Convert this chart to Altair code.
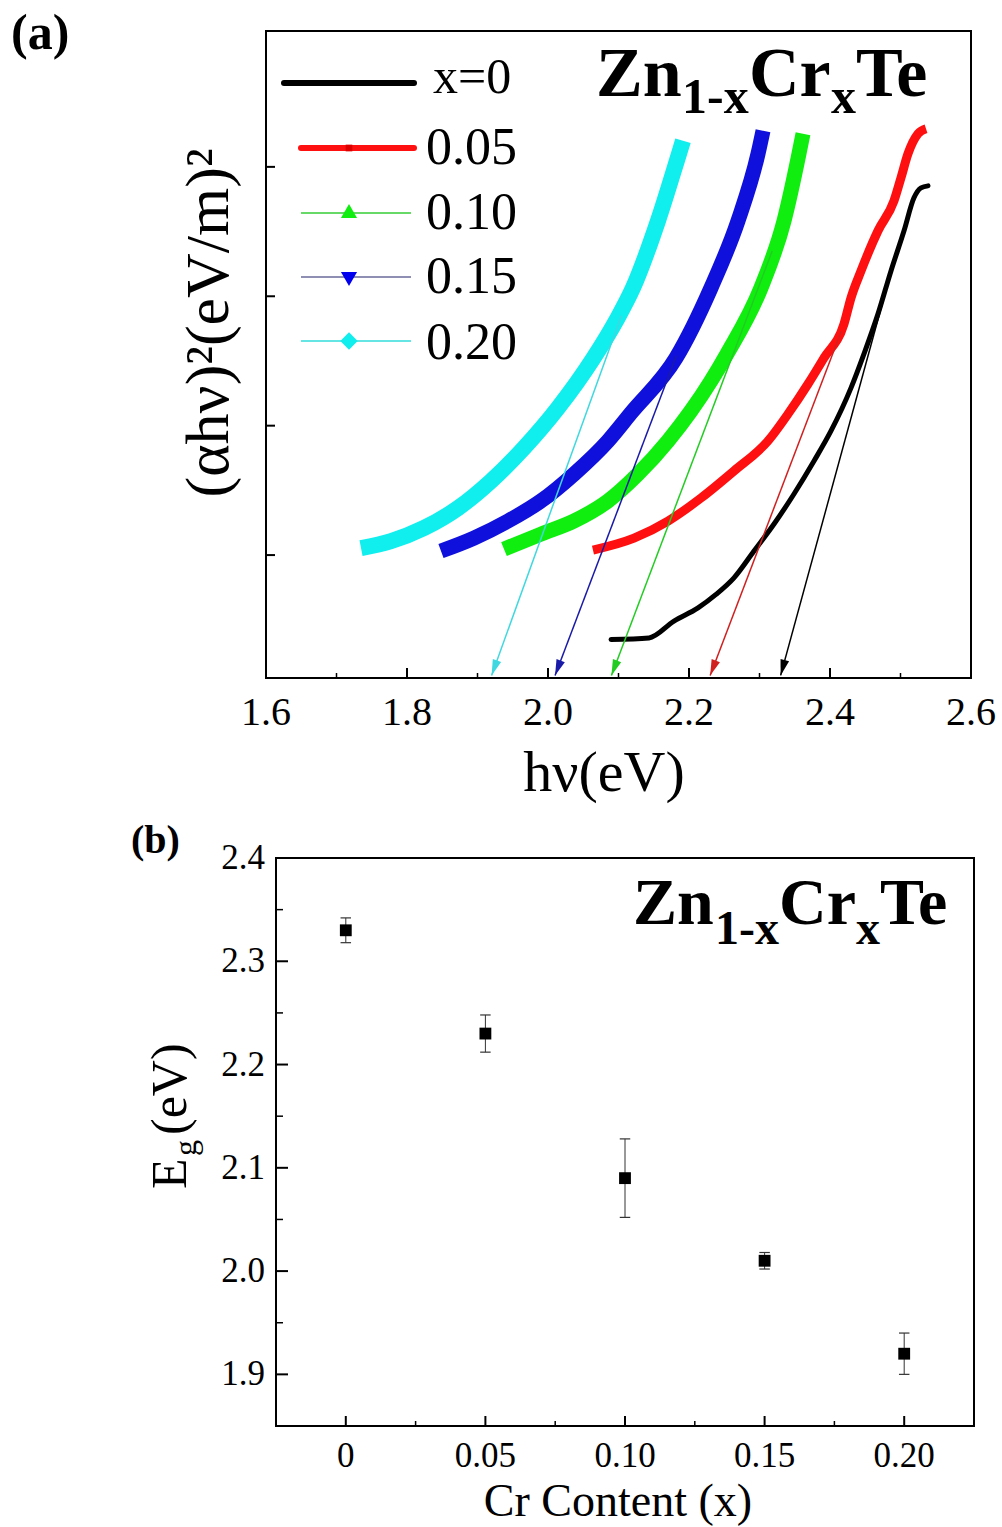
import math
import altair as alt
import pandas as pd

# ---------------- panel (a) data: (alpha h nu)^2 vs h nu ----------------
SERIES_LABELS = ["x=0", "0.05", "0.10", "0.15", "0.20"]

X000_EV = [2.0894, 2.1433, 2.1787, 2.2128, 2.2383, 2.2638, 2.2922, 2.3206, 2.3489, 2.3773,
           2.4014, 2.4298, 2.4482, 2.4681, 2.4865, 2.5050, 2.5191, 2.5291, 2.5390]
X000_Y = [0.348, 0.360, 0.490, 0.592, 0.696, 0.824, 1.031, 1.240, 1.472, 1.727,
          1.959, 2.292, 2.555, 2.864, 3.196, 3.506, 3.761, 3.838, 3.853]

X005_EV = [2.0638, 2.1220, 2.1702, 2.2170, 2.2638, 2.3121, 2.3404, 2.3688, 2.3915, 2.4199,
           2.4298, 2.4440, 2.4681, 2.4908, 2.5007, 2.5106, 2.5248, 2.5362]
X005_Y = [1.039, 1.131, 1.263, 1.441, 1.650, 1.882, 2.090, 2.322, 2.524, 2.787,
          2.988, 3.196, 3.506, 3.738, 3.916, 4.101, 4.256, 4.295]

X010_EV = [1.9376, 1.9901, 2.0369, 2.0851, 2.1277, 2.1702, 2.2028, 2.2312, 2.2539, 2.3021,
           2.3348, 2.3560, 2.3617]
X010_Y = [1.046, 1.162, 1.263, 1.418, 1.626, 1.882, 2.114, 2.346, 2.555, 3.065,
          3.583, 4.101, 4.256]

X015_EV = [1.8482, 1.8950, 1.9433, 1.9901, 2.0369, 2.0851, 2.1177, 2.1816, 2.2312, 2.2695,
           2.2979, 2.3050]
X015_Y = [1.031, 1.131, 1.263, 1.418, 1.626, 1.882, 2.098, 2.524, 3.065, 3.583,
          4.101, 4.279]

X020_EV = [1.7348, 1.7773, 1.8241, 1.8723, 1.9191, 1.9660, 2.0142, 2.0638, 2.0965, 2.1206,
           2.1560, 2.1858, 2.1915]
X020_Y = [1.054, 1.108, 1.209, 1.363, 1.572, 1.828, 2.137, 2.516, 2.810, 3.065,
          3.583, 4.101, 4.202]

# tangent (extrapolation) arrows: start point -> band gap on the axis
ARROW_X1 = [2.475, 2.416, 2.318, 2.182, 2.104]
ARROW_Y1 = [2.96, 2.73, 3.35, 2.54, 2.85]
ARROW_Y2 = [0.07, 0.07, 0.07, 0.07, 0.07]

XTICKS_A = [1.6, 1.8, 2.0, 2.2, 2.4, 2.6]
XLABELS_A = ["1.6", "1.8", "2.0", "2.2", "2.4", "2.6"]
XMINOR_A = [1.7, 1.9, 2.1, 2.3, 2.5]
YTICKS_A = [1, 2, 3, 4]

# ---------------- panel (b) data: Eg vs Cr content ----------------
CR = [0.0, 0.05, 0.10, 0.15, 0.20]
EG = [2.33, 2.23, 2.09, 2.01, 1.92]
EG_ERR = [0.012, 0.018, 0.038, 0.008, 0.020]

XTICKS_B = [0.0, 0.05, 0.10, 0.15, 0.20]
XLABELS_B = ["0", "0.05", "0.10", "0.15", "0.20"]
XMINOR_B = [0.025, 0.075, 0.125, 0.175]
YTICKS_B = [1.9, 2.0, 2.1, 2.2, 2.3, 2.4]
YLABELS_B = ["1.9", "2.0", "2.1", "2.2", "2.3", "2.4"]
YMINOR_B = [1.95, 2.05, 2.15, 2.25, 2.35]

# ---------------- styles ----------------
SERIF = "Liberation Serif"
CURVE_COLORS = ["#000000", "#ff1010", "#10ee10", "#1010dd", "#10eeee"]
CURVE_WIDTHS = [5, 9, 15, 15, 16]
ARROW_COLORS = ["#000000", "#d02020", "#22cc22", "#1a1aa8", "#3fd8e0"]

WA, HA = 705, 647
WB, HB = 708, 568
B_LEFT = 10  # frame offset inside panel (b) view

ONE = pd.DataFrame({"k": [0]})


def txt(text, x, y, size, weight="normal", angle=0, align="left", baseline="alphabetic"):
    return alt.Chart(ONE).mark_text(
        text=text, font=SERIF, fontSize=size, fontWeight=weight, angle=angle,
        align=align, baseline=baseline, color="black"
    ).encode(x=alt.value(x), y=alt.value(y))


def prule(x1, y1, x2, y2, color="black", width=2.0, cap="butt"):
    return alt.Chart(ONE).mark_rule(color=color, strokeWidth=width, strokeCap=cap).encode(
        x=alt.value(x1), y=alt.value(y1), x2=alt.value(x2), y2=alt.value(y2))


def ppoint(x, y, shape, color, size):
    return alt.Chart(ONE).mark_point(shape=shape, filled=True, color=color, size=size,
                                     opacity=1).encode(x=alt.value(x), y=alt.value(y))


def frame(x1, y1, x2, y2):
    return alt.Chart(ONE).mark_rect(fillOpacity=0, stroke="black", strokeWidth=2).encode(
        x=alt.value(x1), y=alt.value(y1), x2=alt.value(x2), y2=alt.value(y2))


# ================= panel (a) =================
xs_a = alt.Scale(domain=[1.6, 2.6], nice=False, zero=False)
ys_a = alt.Scale(domain=[0.05, 5.05], nice=False, zero=False)

series_x = [X000_EV, X005_EV, X010_EV, X015_EV, X020_EV]
series_y = [X000_Y, X005_Y, X010_Y, X015_Y, X020_Y]

layers_a = []
# invisible anchor fixing the origin of the whole figure
layers_a.append(prule(-265, -30, -264.9, -30, color="white", width=0.2))

for i, lab in enumerate(SERIES_LABELS):
    df = pd.DataFrame({"ev": series_x[i], "val": series_y[i], "s": lab})
    layers_a.append(
        alt.Chart(df).mark_line(color=CURVE_COLORS[i], strokeWidth=CURVE_WIDTHS[i],
                                strokeJoin="round", interpolate="monotone",
                                strokeCap="round" if i == 0 else "butt").encode(
            x=alt.X("ev:Q", scale=xs_a, axis=None),
            y=alt.Y("val:Q", scale=ys_a, axis=None),
        )
    )

# arrows
PXX = WA / 1.0
PXY = HA / 5.0
angles = []
for i in range(5):
    dxp = (EG[i] - ARROW_X1[i]) * PXX
    dyp = (ARROW_Y1[i] - ARROW_Y2[i]) * PXY
    angles.append(math.degrees(math.atan2(-dxp, dyp)))
arrows = pd.DataFrame({"x1": ARROW_X1, "y1": ARROW_Y1, "x2": EG, "y2": ARROW_Y2,
                       "s": SERIES_LABELS, "ang": angles})
acol = alt.Color("s:N", scale=alt.Scale(domain=SERIES_LABELS, range=ARROW_COLORS), legend=None)
layers_a.append(
    alt.Chart(arrows).mark_rule(strokeWidth=1.5).encode(
        x=alt.X("x1:Q", scale=xs_a, axis=None), y=alt.Y("y1:Q", scale=ys_a, axis=None),
        x2="x2:Q", y2="y2:Q", color=acol)
)
layers_a.append(
    alt.Chart(arrows).mark_point(shape="M0,0L-0.28,-1L0.28,-1Z", filled=True, size=1000,
                                 opacity=1).encode(
        x=alt.X("x2:Q", scale=xs_a, axis=None), y=alt.Y("y2:Q", scale=ys_a, axis=None),
        angle=alt.Angle("ang:Q", scale=None), color=acol, fill=acol)
)

# inward ticks
layers_a.append(alt.Chart(pd.DataFrame({"v": XTICKS_A[1:-1]})).mark_rule(
    color="black", strokeWidth=2).encode(
    x=alt.X("v:Q", scale=xs_a, axis=None), y=alt.value(HA), y2=alt.value(HA - 10)))
layers_a.append(alt.Chart(pd.DataFrame({"v": XMINOR_A})).mark_rule(
    color="black", strokeWidth=1.5).encode(
    x=alt.X("v:Q", scale=xs_a, axis=None), y=alt.value(HA), y2=alt.value(HA - 5)))
layers_a.append(alt.Chart(pd.DataFrame({"v": YTICKS_A})).mark_rule(
    color="black", strokeWidth=2).encode(
    y=alt.Y("v:Q", scale=ys_a, axis=None), x=alt.value(0), x2=alt.value(9)))

# tick labels
layers_a.append(alt.Chart(pd.DataFrame({"v": XTICKS_A, "t": XLABELS_A})).mark_text(
    font=SERIF, fontSize=40, align="center", baseline="alphabetic", color="black").encode(
    x=alt.X("v:Q", scale=xs_a, axis=None), y=alt.value(HA + 47), text="t:N"))

layers_a.append(frame(0, 0, WA, HA))

# legend
layers_a += [
    prule(18, 52, 148, 52, color=CURVE_COLORS[0], width=6, cap="round"),
    txt("x=0", 167, 62, 50),
    prule(35, 117, 148, 117, color=CURVE_COLORS[1], width=6, cap="round"),
    ppoint(83, 117, "square", "#dd0000", 45),
    txt("0.05", 160, 133, 52),
    prule(35, 182, 145, 182, color="#33cc33", width=1.5),
    ppoint(83, 180, "triangle-up", CURVE_COLORS[2], 260),
    txt("0.10", 160, 198, 52),
    prule(35, 246, 145, 246, color="#6a6a9a", width=1.5),
    ppoint(83, 248, "triangle-down", "#0000ee", 260),
    txt("0.15", 160, 262, 52),
    prule(35, 310, 145, 310, color="#33dddd", width=1.5),
    ppoint(83, 310, "diamond", "#11eeee", 300),
    txt("0.20", 160, 328, 52),
]

# compound title Zn1-xCrxTe
layers_a += [
    txt("Zn", 330, 65, 70, "bold"),
    txt("1-x", 416, 82, 50, "bold"),
    txt("Cr", 483, 65, 70, "bold"),
    txt("x", 565, 82, 50, "bold"),
    txt("Te", 590, 65, 70, "bold"),
]

# labels and axis titles
layers_a += [
    txt("(a)", -255, 18, 50, "bold"),
    txt("(\u03b1h\u03bd)\u00b2(eV/m)\u00b2", -38, 292, 62, angle=270, align="center"),
    txt("h\u03bd(eV)", 338, 760, 58, align="center"),
]

panel_a = alt.layer(*layers_a).properties(width=WA, height=HA)

# ================= panel (b) =================
xs_b = alt.Scale(domain=[-0.025, 0.225], range=[B_LEFT, WB], nice=False, zero=False)
ys_b = alt.Scale(domain=[1.85, 2.4], nice=False, zero=False)

dfb = pd.DataFrame({"cr": CR, "eg": EG, "err": EG_ERR})
dfb["lo"] = dfb["eg"] - dfb["err"]
dfb["hi"] = dfb["eg"] + dfb["err"]

layers_b = []
layers_b.append(alt.Chart(dfb).mark_rule(color="#333333", strokeWidth=1).encode(
    x=alt.X("cr:Q", scale=xs_b, axis=None),
    y=alt.Y("lo:Q", scale=ys_b, axis=None), y2="hi:Q"))
for fld in ["lo", "hi"]:
    layers_b.append(alt.Chart(dfb).mark_point(shape="stroke", size=110, color="#333333",
                                              strokeWidth=1.2, opacity=1).encode(
        x=alt.X("cr:Q", scale=xs_b, axis=None), y=alt.Y(f"{fld}:Q", scale=ys_b, axis=None)))
layers_b.append(alt.Chart(dfb).mark_point(shape="square", filled=True, size=140,
                                          color="black", opacity=1).encode(
    x=alt.X("cr:Q", scale=xs_b, axis=None), y=alt.Y("eg:Q", scale=ys_b, axis=None)))

# inward ticks
layers_b.append(alt.Chart(pd.DataFrame({"v": YTICKS_B})).mark_rule(
    color="black", strokeWidth=2).encode(
    y=alt.Y("v:Q", scale=ys_b, axis=None), x=alt.value(B_LEFT), x2=alt.value(B_LEFT + 12)))
layers_b.append(alt.Chart(pd.DataFrame({"v": YMINOR_B})).mark_rule(
    color="black", strokeWidth=1.5).encode(
    y=alt.Y("v:Q", scale=ys_b, axis=None), x=alt.value(B_LEFT), x2=alt.value(B_LEFT + 7)))
layers_b.append(alt.Chart(pd.DataFrame({"v": XTICKS_B})).mark_rule(
    color="black", strokeWidth=2).encode(
    x=alt.X("v:Q", scale=xs_b, axis=None), y=alt.value(HB), y2=alt.value(HB - 10)))
layers_b.append(alt.Chart(pd.DataFrame({"v": XMINOR_B})).mark_rule(
    color="black", strokeWidth=1.5).encode(
    x=alt.X("v:Q", scale=xs_b, axis=None), y=alt.value(HB), y2=alt.value(HB - 5)))

# tick labels
layers_b.append(alt.Chart(pd.DataFrame({"v": XTICKS_B, "t": XLABELS_B})).mark_text(
    font=SERIF, fontSize=35, align="center", baseline="alphabetic", color="black").encode(
    x=alt.X("v:Q", scale=xs_b, axis=None), y=alt.value(HB + 41), text="t:N"))
layers_b.append(alt.Chart(pd.DataFrame({"v": YTICKS_B, "t": YLABELS_B})).mark_text(
    font=SERIF, fontSize=35, align="right", baseline="middle", color="black").encode(
    y=alt.Y("v:Q", scale=ys_b, axis=None), x=alt.value(-1), text="t:N"))

layers_b.append(frame(B_LEFT, 0, WB, HB))

layers_b += [
    txt("Zn", 367, 66, 66, "bold"),
    txt("1-x", 449, 86, 48, "bold"),
    txt("Cr", 513, 66, 66, "bold"),
    txt("x", 590, 86, 48, "bold"),
    txt("Te", 614, 66, 66, "bold"),
    txt("(b)", -135, -5, 40, "bold"),
    txt("E", -80, 331, 50, angle=270),
    txt("g", -70, 298, 32, angle=270),
    txt("(eV)", -80, 277, 50, angle=270),
    txt("Cr Content (x)", 352, 658, 46, align="center"),
]

panel_b = alt.layer(*layers_b).properties(width=WB, height=HB)

chart = alt.vconcat(panel_a, panel_b, spacing=180, bounds="flush").properties(
    padding={"left": 0, "top": 0, "right": 0, "bottom": 0}
).configure_view(stroke="transparent")

chart.save("out.html", embed_options={"renderer": "svg", "actions": False})
